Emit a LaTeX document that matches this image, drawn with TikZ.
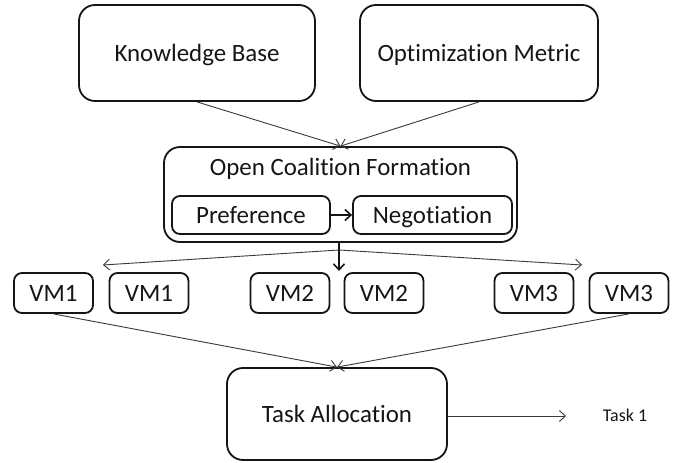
\documentclass[tikz,border=0pt]{standalone}
\usepackage{fontspec}
\setmainfont{Carlito}[Ligatures=NoCommon]
\usetikzlibrary{arrows.meta}
\definecolor{Ink}{HTML}{151515}
\definecolor{Wire}{HTML}{3A3A3A}
\newcommand{\figbackground}[2]{
  \path[use as bounding box] (0,0) rectangle (#1,#2);
  \fill[white] (0,0) rectangle (#1,#2);
}
\tikzset{
  caption/.style={text=Ink,inner sep=0bp,text height={0.744*#1bp},
    text depth={0.1*#1bp},font=\fontsize{#1}{#1}\selectfont},
  caption/.default=25,
  block/.style={caption,draw=Ink,line width=1.8bp,rounded corners=#1},
  block/.default=16bp,
  vmbox/.style={block=8bp,minimum width=79bp,minimum height=40bp},
  wire/.style={draw=Wire,line width=0.9bp,
    -{Straight Barb[length=6bp,width=11bp]}},
  boldwire/.style={draw=Ink,line width=1.6bp,
    -{Straight Barb[length=6bp,width=11bp]}}
}

\begin{document}
\begin{tikzpicture}[x=1bp,y=-1bp]
  \figbackground{676}{463}

  % inputs to the coalition stage
  \node[block,minimum width=236bp,minimum height=96bp] (kb) at (197,53)
    {Knowledge Base};
  \node[block,minimum width=238bp,minimum height=96bp] (om) at (479,53)
    {Optimization Metric};

  % coalition formation with its two steps
  \node[block,minimum width=353bp,minimum height=95bp] (ocf) at (340.5,194.5) {};
  \node[caption] (ocftitle) at (340.5,167) {Open Coalition Formation};
  \node[block=8bp,minimum width=158bp,minimum height=38bp] (pref) at (251,215)
    {Preference};
  \node[block=8bp,minimum width=159bp,minimum height=38bp] (neg) at (432.5,215)
    {Negotiation};

  % virtual machines
  \node[vmbox] (vm1a) at (53.5,293) {VM1};
  \node[vmbox] (vm1b) at (149,293) {VM1};
  \node[vmbox] (vm2a) at (290,293) {VM2};
  \node[vmbox] (vm2b) at (384,293) {VM2};
  \node[vmbox] (vm3a) at (534,293) {VM3};
  \node[vmbox] (vm3b) at (629,293) {VM3};

  % allocation and its output
  \node[block,minimum width=220bp,minimum height=92bp] (ta) at (337,414)
    {Task Allocation};
  \node[caption=18] (task1) at (625,416) {Task 1};

  \coordinate (split) at (339,250);
  \coordinate (drop) at (339,271);
  \coordinate (lefttip) at (103,265);
  \coordinate (righttip) at (582,265);
  \coordinate (outtip) at (566,416);

  \draw[wire] (kb.south) -- (ocf.north);
  \draw[wire] (om.south) -- (ocf.north);
  \draw[boldwire] (pref.east) -- (neg.west);
  \draw[boldwire] (ocf.south -| drop) -- (drop);
  \draw[wire] (split) -- (lefttip);
  \draw[wire] (split) -- (righttip);
  \draw[wire] (vm1a.south) -- (ta.north);
  \draw[wire] (vm3b.south) -- (ta.north);
  \draw[wire] (ta.east |- outtip) -- (outtip);
\end{tikzpicture}
\end{document}
